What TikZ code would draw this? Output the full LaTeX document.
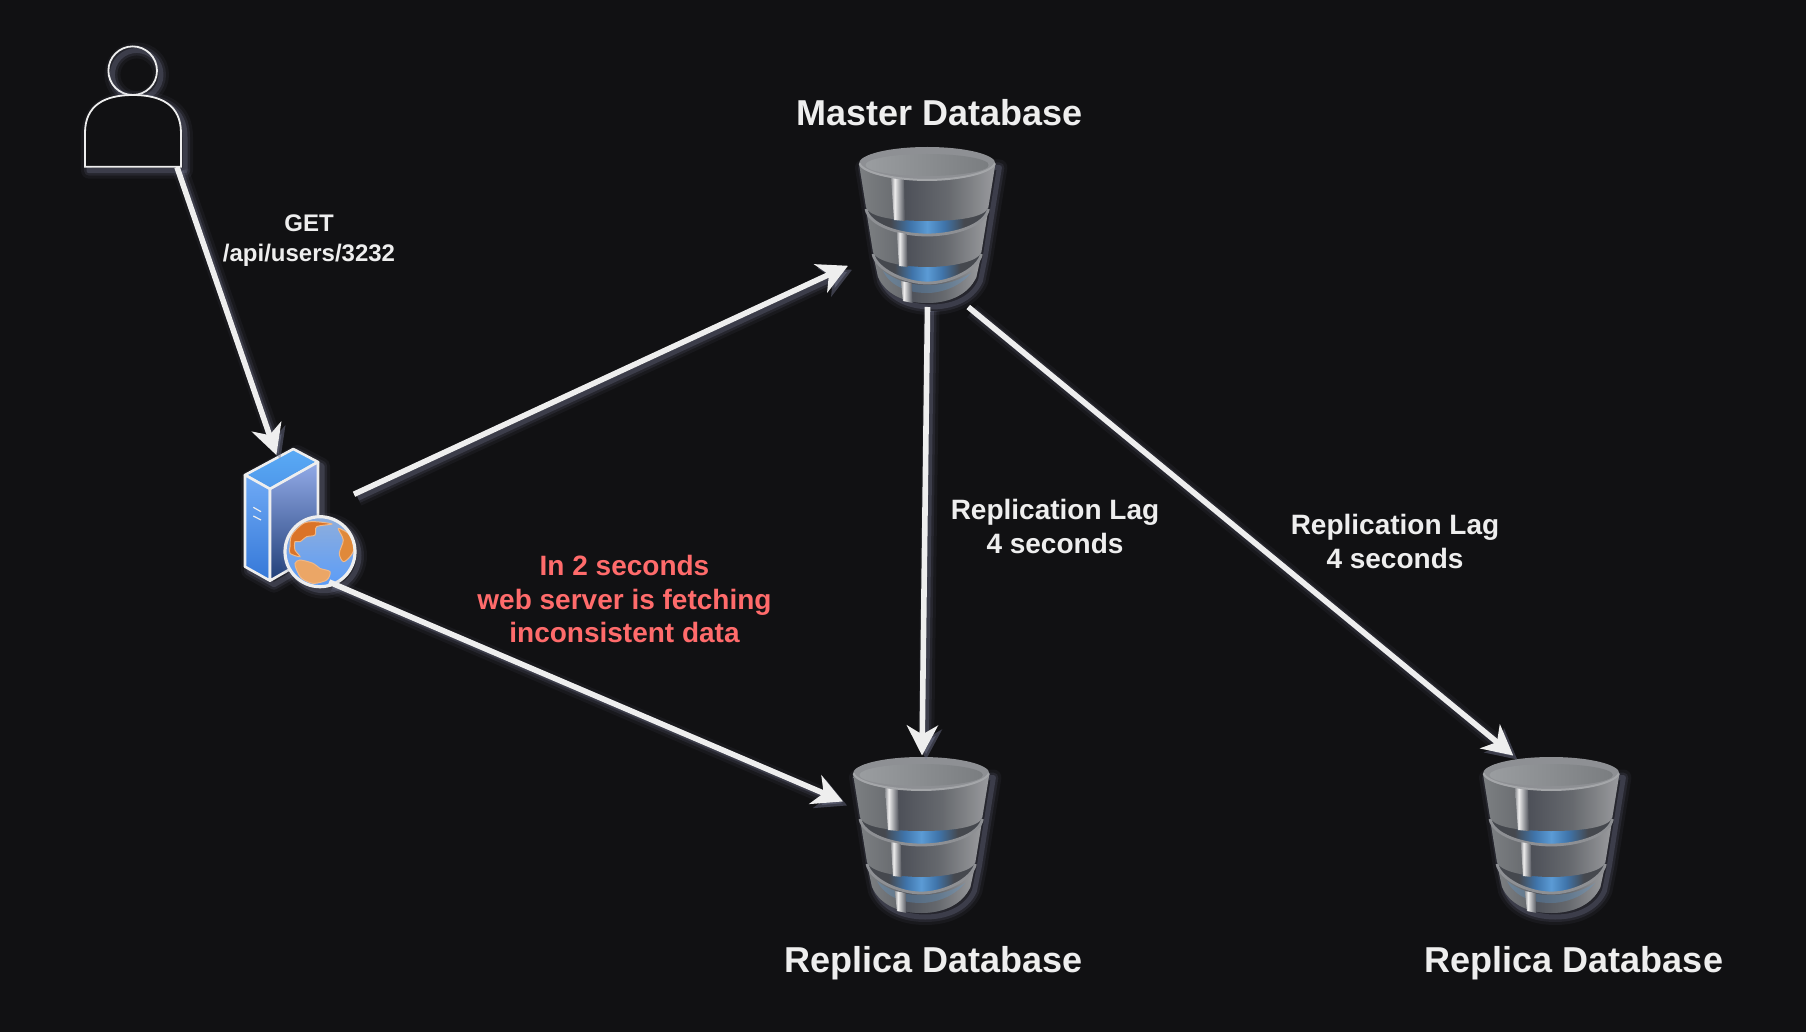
\documentclass[tikz,border=0pt]{standalone}
\usepackage{fontspec}
\setmainfont{Liberation Sans}
\usetikzlibrary{arrows.meta}

\definecolor{bgcol}{HTML}{111113}
\definecolor{inkcol}{HTML}{EEEEEE}
\definecolor{glowcol}{HTML}{787C96}
\definecolor{alertcol}{HTML}{FF6B6B}
\definecolor{dbedge}{HTML}{7C7F82}
\definecolor{dbmid}{HTML}{6B6E72}
\definecolor{dbdark}{HTML}{4D5058}
\definecolor{dbsoft}{HTML}{66696E}
\definecolor{dblight}{HTML}{9A9B9E}
\definecolor{dbgap}{HTML}{45484E}
\definecolor{dbblue}{HTML}{5B9BD5}
\definecolor{dbblueb}{HTML}{3F74AA}
\definecolor{dbrim}{HTML}{8E9094}
\definecolor{dbrimb}{HTML}{A4A6A9}
\definecolor{dbtopa}{HTML}{9A9DA0}
\definecolor{dbtopb}{HTML}{7A7D80}
\definecolor{srvtop}{HTML}{5AAAF5}
\definecolor{srvtopb}{HTML}{4E98EA}
\definecolor{srvlefta}{HTML}{6FAAF5}
\definecolor{srvleftb}{HTML}{3578D8}
\definecolor{srvrighta}{HTML}{93ABE8}
\definecolor{srvrightb}{HTML}{4A64C0}
\definecolor{srvrightc}{HTML}{213F78}
\definecolor{seaa}{HTML}{8FAEDC}
\definecolor{seab}{HTML}{5A9CF8}
\definecolor{landa}{HTML}{DA7328}
\definecolor{landb}{HTML}{E0893A}
\definecolor{landc}{HTML}{EBA666}
\definecolor{landrim}{HTML}{F0B888}

\pgfdeclarehorizontalshading{dbbody}{100bp}{color(0bp)=(dbedge); color(25bp)=(dbedge); color(37.5bp)=(dbmid); color(41.5bp)=(dbdark); color(57.5bp)=(dbsoft); color(75bp)=(dblight); color(100bp)=(dblight)}
\pgfdeclarehorizontalshading{dbband}{100bp}{color(0bp)=(dbgap); color(35bp)=(dbgap); color(43bp)=(dbblueb); color(50bp)=(dbblue); color(57bp)=(dbblueb); color(65bp)=(dbgap); color(100bp)=(dbgap)}
\pgfdeclarehorizontalshading{dbglint}{100bp}{color(0bp)=(dbrim); color(25bp)=(dbrim); color(38bp)=(inkcol); color(75bp)=(dbdark); color(100bp)=(dbdark)}

\tikzset{
    haze/.style={
        preaction={draw=glowcol, opacity=.08, line width=8pt, line join=round, transform canvas={shift={(4,4)}}},
        preaction={draw=glowcol, opacity=.14, line width=5pt, line join=round, transform canvas={shift={(4,4)}}},
        preaction={draw=glowcol, opacity=.28, line width=2.5pt, line join=round, transform canvas={shift={(4,4)}}}
    },
    slot/.style={inner sep=0pt, outer sep=0pt},
    flow/.style={haze, draw=inkcol, line width=2.8pt, -{Stealth[length=15pt, width=15.5pt, inset=4.5pt]}},
    title/.style={text=inkcol, font=\bfseries\fontsize{18}{21}\selectfont, align=center},
    note/.style={text=inkcol, font=\bfseries\fontsize{14}{16.7}\selectfont, align=center},
    small/.style={text=inkcol, font=\bfseries\fontsize{12}{15}\selectfont, align=center},
    dbicon/.pic={
        \path[haze, fill=dbgap] (0,16.5) -- (7,60) -- (14,105) -- (19,130) .. controls (28,150) and (50,156) .. (68.2,156) .. controls (86.4,156) and (108.4,150) .. (117.4,130) -- (122.4,105) -- (129.4,60) -- (136.4,16.5) -- cycle;
        % gaps between the drums
        \shade[shading=dbband] (7,60) -- (129.4,60) .. controls (126.4,78) and (96.4,88) .. (68.2,88) .. controls (40,88) and (10,78) .. (7,60) -- cycle;
        \shade[shading=dbband] (14,105) -- (122.4,105) .. controls (119.4,122) and (91.4,136) .. (68.2,136) .. controls (45,136) and (17,122) .. (14,105) -- cycle;
        % three drums
        \shade[shading=dbbody] (0,16.5) -- (7,60) .. controls (10,71) and (40,74) .. (68.2,74) .. controls (96.4,74) and (126.4,71) .. (129.4,60) -- (136.4,16.5) -- cycle;
        \shade[shading=dbbody] (7,62) .. controls (10,78) and (40,88) .. (68.2,88) .. controls (96.4,88) and (126.4,78) .. (129.4,62) -- (122.4,105) .. controls (119.4,115) and (91.4,120) .. (68.2,120) .. controls (45,120) and (17,115) .. (14,105) -- cycle;
        \shade[shading=dbbody] (14,107) .. controls (17,122) and (45,136) .. (68.2,136) .. controls (91.4,136) and (119.4,122) .. (122.4,107) -- (117.4,130) .. controls (108.4,150) and (86.4,156) .. (68.2,156) .. controls (50,156) and (28,150) .. (19,130) -- cycle;
        % blue bleeding under the last rim
        \fill[dbblue, opacity=.3] (24,124) .. controls (40,136) and (55,138) .. (68.2,138) .. controls (85,138) and (100,134) .. (112,126) .. controls (100,141) and (80,146) .. (68.2,146) .. controls (50,146) and (32,140) .. (24,124) -- cycle;
        \draw[dbrim, line width=1.4pt] (7,62) .. controls (10,78) and (40,88) .. (68.2,88) .. controls (96.4,88) and (126.4,78) .. (129.4,62);
        \draw[dbrim, line width=1.4pt] (14,107) .. controls (17,122) and (45,136) .. (68.2,136) .. controls (91.4,136) and (119.4,122) .. (122.4,107);
        % glints
        \shade[shading=dbglint] (32,31) -- (45,31) -- (46,74) -- (35,73) -- cycle;
        \shade[shading=dbglint] (37.7,85) -- (47.7,87) -- (48.7,120) -- (40,119) -- cycle;
        \shade[shading=dbglint] (41.7,134) -- (52.7,136) -- (53.7,156) -- (44,154) -- cycle;
        % top
        \fill[dbrim] (68.2,16.5) ellipse [x radius=68.2, y radius=16.5];
        \draw[dbrimb, line width=1pt] (0.5,16.5) .. controls (5,27) and (40,33) .. (68.2,33) .. controls (96.4,33) and (131.4,27) .. (135.9,16.5);
        \shade[left color=dbtopa, right color=dbtopb] (68.2,18) ellipse [x radius=61.7, y radius=11];
    },
    webicon/.pic={
        \path[haze, fill=bgcol] (48.3,0) -- (73,13) -- (73,104) -- (25,131.7) -- (0,117.7) -- (0,26) -- cycle;
        \shade[top color=srvtop, bottom color=srvtopb, draw=inkcol, line width=1.3pt, line join=round] (48.3,0) -- (73,13) -- (25,40) -- (0,26) -- cycle;
        \shade[top color=srvlefta, bottom color=srvleftb, draw=inkcol, line width=1.3pt, line join=round] (0,26) -- (25,40) -- (25,131.7) -- (0,117.7) -- cycle;
        \shade[top color=srvrighta, middle color=srvrightb, bottom color=srvrightc, draw=inkcol, line width=1.3pt, line join=round] (25,40) -- (73,13) -- (73,104) -- (25,131.7) -- cycle;
        \draw[inkcol, line width=.6pt] (8.3,58.3) -- (16,62.7) (8.3,67) -- (16,71);
        % globe
        \begin{scope}[shift={(75,102.7)}]
            \path[haze, fill=bgcol] (0,0) circle (35);
            \begin{scope}
                \clip (0,0) circle (35);
                \shade[top color=seaa, bottom color=seab] (-35,-35) rectangle (35,35);
                \fill[landa, draw=landrim, line width=.5pt] plot[smooth cycle] coordinates {(-30,-5) (-28.3,-16.7) (-16.7,-28.3) (-5,-30) (11.7,-27.7) (-3.3,-25) (-5,-16.7) (-13.3,-15) (-20,-10) (-25,-10) (-25,-1.7) (-20,5) (-30,1.7)};
                \fill[landb, draw=landrim, line width=.5pt] plot[smooth cycle] coordinates {(18.3,-23.3) (30,-16.7) (34,-3.3) (30,5) (23.3,10) (19.3,1.7) (23.3,-11.7)};
                \fill[landc, draw=landrim, line width=.5pt] plot[smooth cycle] coordinates {(-25,11.7) (-20,8.3) (-6.7,11.7) (0,16.7) (10,20) (6.7,28.3) (-6.7,31.7) (-18.3,26.7) (-23.3,18.3)};
            \end{scope}
            \draw[inkcol, line width=1.6pt] (0,0) circle (35);
        \end{scope}
    }
}

\begin{document}
\begin{tikzpicture}[x=0.5pt, y=-0.5pt]
    \useasboundingbox (0, 0) rectangle (1806, 1032);
    \fill[bgcol] (0, 0) rectangle (1806, 1032);

    \node [slot, minimum width=48pt, minimum height=60.5pt] (User) at (133, 106.5) {};
    \node [slot, minimum width=54.5pt, minimum height=63.5pt] (Web) at (299.5, 518.5) {};
    \node [slot, minimum width=79.5pt, minimum height=80pt] (Master) at (927.5, 227) {};
    \node [slot, minimum width=79pt, minimum height=79.5pt] (ReplicaA) at (922, 835) {};
    \node [slot, minimum width=79pt, minimum height=79.5pt] (ReplicaB) at (1552, 835) {};

    % person
    \draw[haze, inkcol, line width=.9pt] (132.7, 70.7) circle (24.3);
    \draw[haze, inkcol, fill=bgcol, line width=.9pt] (85, 166.7) -- (85, 133) .. controls (85, 105) and (105, 95) .. (133, 95) .. controls (161, 95) and (181, 105) .. (181, 133) -- (181, 166.7) -- cycle;

    \pic at (245, 449) {webicon};
    \foreach \dbx/\dby in {859/147, 853/757, 1483/757} {
        \pic at (\dbx, \dby) {dbicon};
    }

    \draw[flow] (User.-54.2) -- (Web.110.3);
    \draw[flow] (Web.24.2) -- (Master.206.7);
    \draw[flow] (Web.-65.8) -- (ReplicaA.157.9);
    \draw[flow] (Master.south) -- (ReplicaA.north);
    \draw[flow] (Master.-63.1) -- (ReplicaB.116.4);

    \node [title] (MasterTitle) at (940, 113) {Master Database};
    \node [title] (ReplicaTitleA) at (934, 963) {Replica Database};
    \node [title] (ReplicaTitleB) at (1574, 963) {Replica Database};
    \node [small] (RequestNote) at (309, 241) {GET\\/api/users/3232};
    \node [note] (LagNoteA) at (1055, 526.5) {Replication Lag\\4 seconds};
    \node [note] (LagNoteB) at (1395, 541.5) {Replication Lag\\4 seconds};
    \node [note, text=alertcol] (FetchNote) at (624.5, 599) {In 2 seconds\\web server is fetching\\inconsistent data};
\end{tikzpicture}
\end{document}
